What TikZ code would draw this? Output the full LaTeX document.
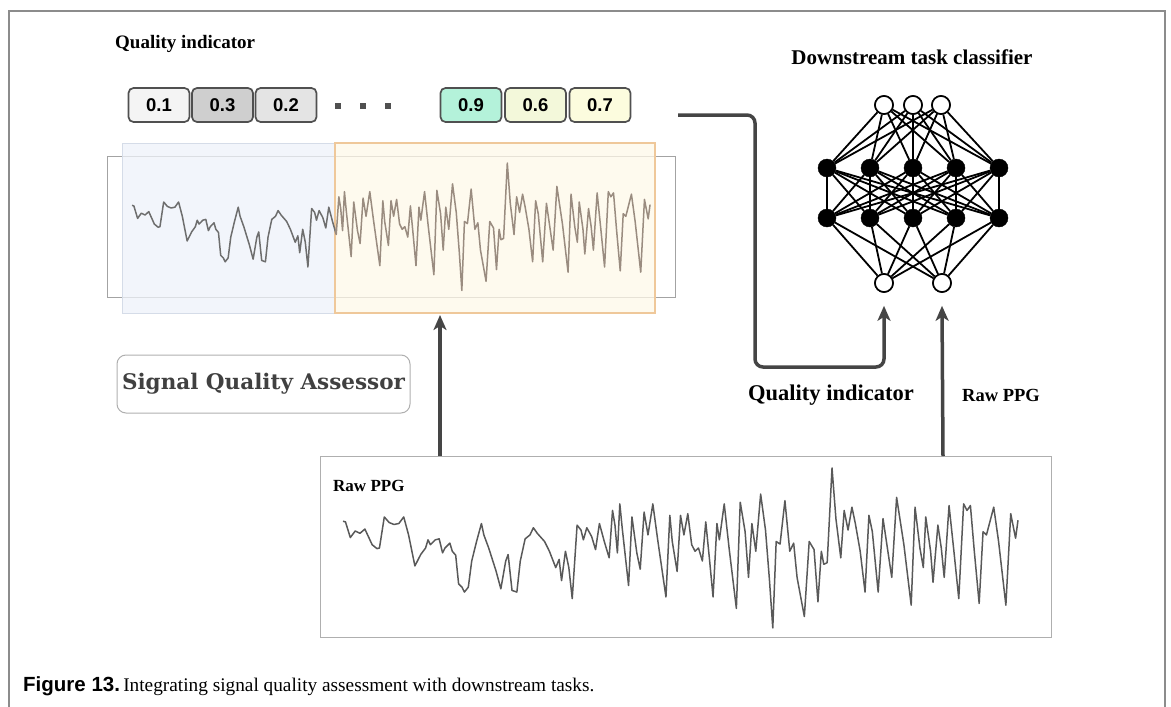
\documentclass[tikz,border=0pt]{standalone}
\usepackage{fontspec}
\setmainfont{Liberation Serif}
\newfontfamily\arialf{Liberation Sans}
\newfontfamily\sqaf{DejaVu Serif}
\usetikzlibrary{arrows.meta}
\definecolor{framegray}{HTML}{8C8C8C}
\definecolor{arrowgray}{HTML}{454545}
\definecolor{boxborder}{HTML}{505050}
\definecolor{fA}{HTML}{F4F4F4}
\definecolor{fB}{HTML}{CFCFCF}
\definecolor{fC}{HTML}{E4E4E4}
\definecolor{fD}{HTML}{B4F2DA}
\definecolor{fE}{HTML}{F3F8DA}
\definecolor{fF}{HTML}{FCFCDE}
\definecolor{bluefill}{HTML}{EEF2F9}
\definecolor{blueline}{HTML}{D5DCE8}
\definecolor{orangefill}{HTML}{FEF8E8}
\definecolor{orangeline}{HTML}{EFC89A}
\definecolor{sigbrown}{HTML}{9A8C80}
\definecolor{siggray}{HTML}{6E6E6E}
\newcommand{\ppgline}[1]{\draw[#1] (130,208) -- (135,210) -- (145,258) -- (155,238) -- (165,245) -- (175,232) -- (180,248) -- (190,280) -- (200,292) -- (205,290) -- (215,195) -- (225,212) -- (235,218) -- (245,215) -- (255,195) -- (265,250) -- (278,345) -- (290,310) -- (300,290) -- (305,265) -- (310,280) -- (320,265) -- (328,262) -- (335,305) -- (340,290) -- (350,275) -- (355,300) -- (362,312) -- (368,400) -- (375,410) -- (380,425) -- (388,410) -- (395,330) -- (405,270) -- (415,215) -- (420,250) -- (430,290) -- (445,360) -- (455,415) -- (465,330) -- (470,310) -- (478,420) -- (488,425) -- (495,330) -- (505,262) -- (515,250) -- (522,228) -- (530,245) -- (545,270) -- (555,300) -- (568,350) -- (575,325) -- (580,390) -- (588,300) -- (595,350) -- (602,445) -- (612,220) -- (620,235) -- (625,265) -- (632,228) -- (642,255) -- (650,295) -- (658,215) -- (668,270) -- (678,320) -- (685,175) -- (690,220) -- (695,305) -- (700,155) -- (705,230) -- (718,405) -- (725,195) -- (735,305) -- (742,355) -- (750,180) -- (758,250) -- (768,155) -- (778,265) -- (795,440) -- (803,190) -- (808,270) -- (818,362) -- (825,190) -- (832,250) -- (840,185) -- (848,280) -- (855,300) -- (862,290) -- (870,330) -- (877,210) -- (885,330) -- (892,440) -- (900,215) -- (905,265) -- (915,155) -- (925,290) -- (940,475) -- (948,150) -- (958,240) -- (965,380) -- (972,215) -- (980,300) -- (990,125) -- (1000,235) -- (1008,385) -- (1015,535) -- (1022,270) -- (1030,278) -- (1040,145) -- (1050,300) -- (1058,275) -- (1065,380) -- (1080,500) -- (1090,270) -- (1100,295) -- (1108,455) -- (1115,300) -- (1120,340) -- (1127,335) -- (1137,45) -- (1145,200) -- (1155,320) -- (1162,175) -- (1170,235) -- (1178,165) -- (1185,215) -- (1195,300) -- (1205,425) -- (1213,190) -- (1220,240) -- (1232,425) -- (1242,200) -- (1252,300) -- (1260,380) -- (1270,135) -- (1285,280) -- (1300,465) -- (1308,165) -- (1318,290) -- (1325,350) -- (1330,195) -- (1340,300) -- (1345,395) -- (1355,220) -- (1362,290) -- (1368,380) -- (1378,160) -- (1388,300) -- (1398,445) -- (1408,155) -- (1415,175) -- (1422,160) -- (1430,300) -- (1440,460) -- (1448,240) -- (1455,250) -- (1470,165) -- (1480,270) -- (1495,465) -- (1505,185) -- (1515,260) -- (1520,205);}
\tikzset{
  qbox/.style={draw=boxborder, line width=1.7pt, rounded corners=5pt, minimum width=61pt, minimum height=34pt, inner sep=0pt, font=\arialf\bfseries\fontsize{18.5}{20}\selectfont},
  qdot/.style={fill=boxborder, minimum size=6pt, inner sep=0pt},
  lbl/.style={font=\bfseries\fontsize{17}{20}\selectfont, inner sep=0pt},
  bigarrow/.style={draw=arrowgray, line width=3.5pt, -{Stealth[length=15pt,width=13pt,inset=4pt]}},
  openn/.style={circle, draw=black, fill=white, line width=1.6pt, minimum size=18pt, inner sep=0pt},
  filln/.style={circle, draw=black, fill=black, minimum size=18pt, inner sep=0pt},
  nnedge/.style={draw=black, line width=1.8pt},
}
\begin{document}
\begin{tikzpicture}[x=1pt,y=-1pt]
\useasboundingbox (0,0) rectangle (1171,707);
% outer frame
\draw[framegray, line width=1.6pt] (9,712) -- (9,11) -- (1165,11) -- (1165,712);
% titles
\node[lbl, anchor=west, font=\bfseries\fontsize{19}{22}\selectfont] (qtitle) at (115,44) {Quality indicator};
\node[lbl, font=\bfseries\fontsize{21}{24}\selectfont] (dtitle) at (912,57) {Downstream task classifier};
% quality boxes
\node[qbox, fill=fA] (q1) at (159,105) {0.1};
\node[qbox, fill=fB] (q2) at (222.5,105) {0.3};
\node[qbox, fill=fC] (q3) at (286,105) {0.2};
\node[qdot] (d1) at (338,106) {};
\node[qdot] (d2) at (363,106) {};
\node[qdot] (d3) at (388,106) {};
\node[qbox, fill=fD] (q4) at (471,105) {0.9};
\node[qbox, fill=fE] (q5) at (535.5,105) {0.6};
\node[qbox, fill=fF] (q6) at (600,105) {0.7};
% middle signal panel
\node[draw=framegray!80, line width=1pt, minimum width=568pt, minimum height=141pt, inner sep=0pt] (panel) at (391,226.5) {};
\node[fill=bluefill, fill opacity=0.75, draw=blueline, line width=1pt, minimum width=213pt, minimum height=170pt, inner sep=0pt] (bluebox) at (228.5,228) {};
\node[fill=orangefill, fill opacity=0.75, draw=orangeline, line width=1.2pt, minimum width=320pt, minimum height=170pt, inner sep=0pt] (orangebox) at (495,228) {};
\begin{scope}
  \clip (100,140) rectangle (335,320);
  \begin{scope}[shift={(83.55,151.3)}, xscale=0.3727, yscale=0.26]
    \ppgline{siggray, line width=1.5pt, line join=round}
  \end{scope}
\end{scope}
\begin{scope}
  \clip (335,140) rectangle (680,320);
  \begin{scope}[shift={(83.55,151.3)}, xscale=0.3727, yscale=0.26]
    \ppgline{sigbrown, line width=1.5pt, line join=round}
  \end{scope}
\end{scope}
% signal quality assessor
\node[draw=framegray!70, line width=1pt, rounded corners=9pt, minimum width=293pt, minimum height=58pt, inner sep=0pt, text=black!75, font=\sqaf\bfseries\fontsize{21.5}{24}\selectfont] (sqa) at (263.5,384) {Signal Quality Assessor};
% raw PPG box
\node[draw=framegray!70, line width=1pt, minimum width=731pt, minimum height=181pt, inner sep=0pt] (raw) at (685.5,546.5) {};
\node[lbl, anchor=west] (rawlbl) at (333,486) {Raw PPG};
\begin{scope}[shift={(279.9,453.3)}, xscale=0.4856, yscale=0.3265]
  \ppgline{black!65, line width=1.5pt, line join=round}
\end{scope}
% neural network
\node[openn] (i1) at (884,105) {};
\node[openn] (i2) at (913,105) {};
\node[openn] (i3) at (941,105) {};
\foreach \n/\xx in {1/827,2/870,3/913,4/956,5/999}{
  \node[filln] (ha\n) at (\xx,168) {};
  \node[filln] (hb\n) at (\xx,218) {};
}
\node[openn] (o1) at (884,283) {};
\node[openn] (o2) at (942,283) {};
\foreach \i in {1,2,3}{\foreach \j in {1,...,5}{\draw[nnedge] (i\i) -- (ha\j);}}
\foreach \i in {1,...,5}{\foreach \j in {1,...,5}{\draw[nnedge] (ha\i) -- (hb\j);}}
\foreach \i in {1,...,5}{\foreach \j in {1,2}{\draw[nnedge] (hb\i) -- (o\j);}}
\node[openn] at (i1) {};
\node[openn] at (i2) {};
\node[openn] at (i3) {};
\node[openn] at (o1) {};
\node[openn] at (o2) {};
% connectors
\coordinate (qstart) at (678,115);
\coordinate (a1s) at (440,456);
\coordinate (a1e) at (440,315);
\coordinate (a3s) at (943,456);
\draw[bigarrow, rounded corners=8pt] (qstart) -- (755,115) -- (755,367) -- (884,367) -- ([yshift=-13pt]o1.south);
\draw[bigarrow] (a1s) -- (a1e);
\draw[bigarrow] (a3s) -- ([yshift=-13pt]o2.south);
\node[lbl, font=\bfseries\fontsize{22.5}{26}\selectfont] (qil) at (831,395) {Quality indicator};
\node[lbl, font=\bfseries\fontsize{18.5}{22}\selectfont] (rpl) at (1001,395) {Raw PPG};
% caption
\node[anchor=west, inner sep=0pt, font=\fontsize{19.3}{22}\selectfont] (cap) at (23,686) {{\arialf\bfseries\fontsize{20.5}{22}\selectfont Figure 13.}\,Integrating signal quality assessment with downstream tasks.};
\end{tikzpicture}
\end{document}
